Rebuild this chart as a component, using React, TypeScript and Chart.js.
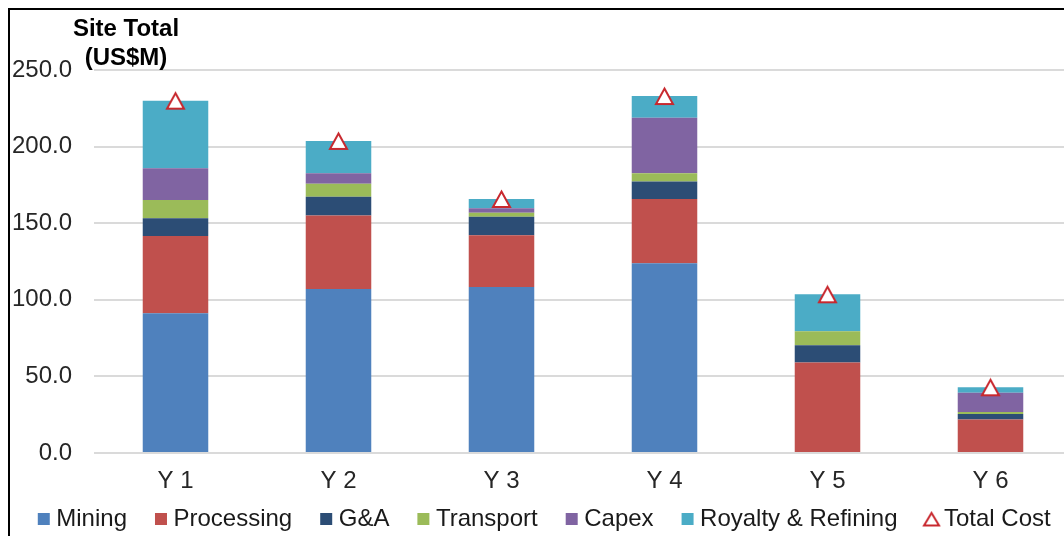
import { useEffect, useRef } from "react";
import { Chart, registerables } from "chart.js";

Chart.register(...registerables);

// Cost breakdown per year (US$M)
const years = ["Y 1", "Y 2", "Y 3", "Y 4", "Y 5", "Y 6"];
const mining = [91.2, 107.0, 108.4, 123.8, 0, 0];
const processing = [50.4, 48.1, 33.7, 42.0, 59.0, 21.8];
const gAndA = [11.6, 12.2, 12.1, 11.5, 11.3, 3.7];
const transport = [11.9, 8.5, 2.7, 5.3, 9.1, 1.3];
const capex = [20.7, 6.8, 2.8, 36.3, 0, 12.6];
const royaltyRefining = [44.2, 21.1, 6.1, 14.1, 24.2, 3.5];
const totalCost = [230.0, 203.7, 165.8, 233.0, 103.6, 42.9];

const valueTicks = [0, 50, 100, 150, 200, 250];
const valueAxisTitle = ["Site Total", "(US$M)"];

const FONT = "'Liberation Sans', Arial, Helvetica, sans-serif";
const TRIANGLE_RED = "#C8282E";

// Outlined triangle marker whose bounding box is centred on the point
function makeTriangle(w: number, h: number, lw: number): HTMLCanvasElement {
  const c = document.createElement("canvas");
  c.width = w;
  c.height = h;
  const g = c.getContext("2d")!;
  const inset = lw + 0.5;
  g.beginPath();
  g.moveTo(w / 2, inset);
  g.lineTo(w - inset + 0.5, h - lw);
  g.lineTo(inset - 0.5, h - lw);
  g.closePath();
  g.fillStyle = "#FFFFFF";
  g.fill();
  g.lineWidth = lw;
  g.lineJoin = "miter";
  g.strokeStyle = TRIANGLE_RED;
  g.stroke();
  return c;
}

// Two-line axis caption above the value axis
const axisTitlePlugin = {
  id: "axisTitle",
  afterDraw(chart: any) {
    const { ctx, chartArea } = chart;
    ctx.save();
    ctx.font = `bold 24px ${FONT}`;
    ctx.fillStyle = "#000000";
    ctx.textAlign = "center";
    ctx.textBaseline = "alphabetic";
    const cx = chartArea.left + 32;
    ctx.fillText(valueAxisTitle[0], cx, 26);
    ctx.fillText(valueAxisTitle[1], cx, 55);
    ctx.restore();
  },
};

// Give the category labels room below their compact axis box
const labelRoomPlugin = {
  id: "labelRoom",
  afterLayout(chart: any) {
    const xs = chart.scales.x;
    xs.bottom = xs.top + 45;
  },
};

export default function App() {
  const canvasRef = useRef<HTMLCanvasElement>(null);

  useEffect(() => {
    const canvas = canvasRef.current;
    if (!canvas) return;
    Chart.defaults.font.family = FONT;

    const pointMarker = makeTriangle(21, 20, 2);
    const legendMarker = makeTriangle(19, 17, 2);

    const bar = (label: string, data: number[], color: string) => ({
      type: "bar" as const,
      label,
      data,
      backgroundColor: color,
      borderWidth: 0,
      order: 1,
      categoryPercentage: 1,
      barPercentage: 0.402,
    });

    const chart = new Chart(canvas, {
      type: "bar",
      data: {
        labels: years,
        datasets: [
          bar("Mining", mining, "#4F81BD"),
          bar("Processing", processing, "#C0504D"),
          bar("G&A", gAndA, "#2C4D75"),
          bar("Transport", transport, "#9BBB59"),
          bar("Capex", capex, "#8064A2"),
          bar("Royalty & Refining", royaltyRefining, "#4BACC6"),
          {
            type: "line" as const,
            label: "Total Cost",
            data: totalCost,
            showLine: false,
            pointStyle: pointMarker,
            pointRadius: 10,
            pointHoverRadius: 10,
            pointBackgroundColor: "#FFFFFF",
            pointBorderColor: TRIANGLE_RED,
            pointBorderWidth: 2,
            backgroundColor: "#FFFFFF",
            borderColor: TRIANGLE_RED,
            order: 0,
            clip: false,
          } as any,
        ],
      },
      options: {
        responsive: false,
        animation: false,
        layout: { padding: { top: 60, right: 0, left: 0, bottom: 0 } },
        scales: {
          x: {
            stacked: true,
            grid: { display: false, drawTicks: false },
            border: { display: false },
            ticks: { padding: 14, color: "#262626", font: { size: 24 } },
            afterFit: (s: any) => {
              s.height = 20.5;
            },
          },
          y: {
            stacked: true,
            min: 0,
            max: 250,
            afterBuildTicks: (s: any) => {
              s.ticks = valueTicks.map((v) => ({ value: v }));
            },
            ticks: {
              padding: 22,
              color: "#262626",
              font: { size: 24 },
              callback: (v: any) => Number(v).toFixed(1),
            },
            grid: { color: "#DADADA", lineWidth: 2, drawTicks: false },
            border: { display: false },
            afterFit: (s: any) => {
              s.width = 114;
            },
          },
          // empty right-hand margin box so the plot stops short of the legend's full width
          yRight: {
            position: "right",
            display: true,
            grid: { display: false, drawTicks: false },
            border: { display: false },
            ticks: { display: false },
            afterFit: (s: any) => {
              s.width = 42;
            },
          },
        },
        plugins: {
          tooltip: { enabled: false },
          legend: {
            position: "bottom",
            labels: {
              usePointStyle: true,
              boxWidth: 1,
              boxHeight: 12,
              padding: 33.5,
              color: "#1A1A1A",
              font: { size: 24 },
              generateLabels: (c: any) => {
                const items = Chart.defaults.plugins.legend.labels.generateLabels(c);
                items.sort((a: any, b: any) => a.datasetIndex - b.datasetIndex);
                return items.map((it: any) => {
                  const ds = c.data.datasets[it.datasetIndex];
                  if (ds.type === "line") {
                    return { ...it, pointStyle: legendMarker, lineWidth: 0 };
                  }
                  return { ...it, pointStyle: "rect", lineWidth: 0 };
                });
              },
            },
          },
        },
      } as any,
      plugins: [axisTitlePlugin, labelRoomPlugin],
    });

    return () => chart.destroy();
  }, []);

  return (
    <div
      style={{
        position: "fixed",
        left: 0,
        top: 0,
        width: 1064,
        height: 536,
        overflow: "hidden",
        background: "#FFFFFF",
      }}
    >
      <canvas
        ref={canvasRef}
        width={1134}
        height={531}
        style={{ position: "absolute", left: -20, top: 10, display: "block" }}
      />
      <div
        style={{
          position: "absolute",
          left: 8,
          top: 8,
          width: 1100,
          height: 600,
          borderLeft: "2px solid #000000",
          borderTop: "2px solid #000000",
          pointerEvents: "none",
        }}
      />
    </div>
  );
}
